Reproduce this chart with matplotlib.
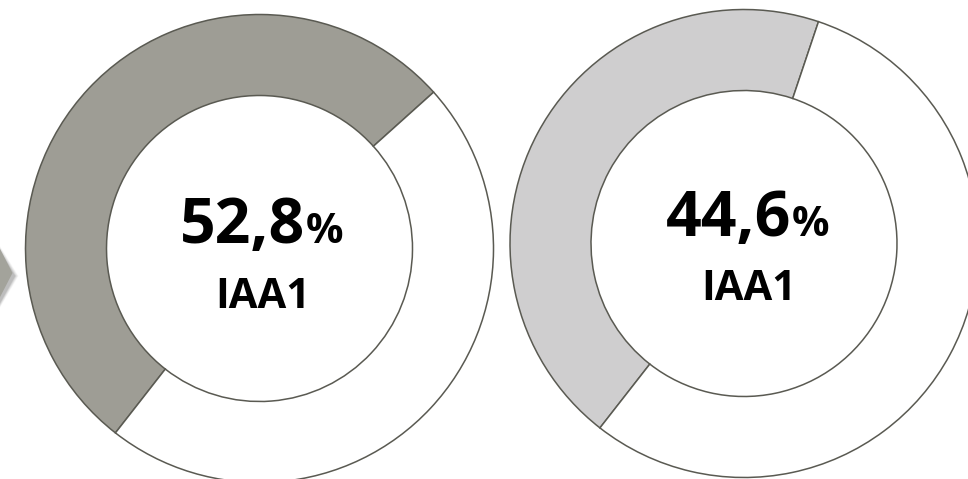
import matplotlib
matplotlib.use("Agg")
import matplotlib.pyplot as plt
from matplotlib.patches import Polygon

# Canvas size in pixels (dpi 100)
W, H = 968, 479

# Chart data
values = [52.8, 44.6]
value_labels = ["52,8", "44,6"]
series_names = ["IAA1", "IAA1"]
fill_colors = ["#9e9d95", "#cfcecf"]
rest_color = "white"
edge_color = "#5a5a52"
FONT = ["Open Sans", "DejaVu Sans"]

fig = plt.figure(figsize=(W / 100, H / 100), dpi=100)
ax = fig.add_axes([0, 0, 1, 1])

# Soft grey pointer peeking in from the left edge (with blurred shadow)
def img(pts):
    return [(x, H - y) for x, y in pts]

arrow = [(-2, 245), (12.5, 273), (-2, 301)]
for i, a in enumerate([0.05, 0.07, 0.09, 0.12, 0.15]):
    grow = 5 - i
    shadow = [(-2, 245 + 3 - grow), (12.5 + 2 + grow * 0.8, 276), (-2, 301 + 5 + grow)]
    ax.add_patch(Polygon(img(shadow), closed=True, facecolor="#606060",
                         edgecolor="none", alpha=a, zorder=0))
ax.add_patch(Polygon(img(arrow), closed=True, facecolor="#a3a39b",
                     edgecolor="none", zorder=1))

# Donut rings
centers = [(259.5, 248.5), (744.0, 243.5)]
R_OUT, R_IN = 234.0, 153.0
for (cx, cy), v, col in zip(centers, values, fill_colors):
    ax.pie([v, 100 - v], colors=[col, rest_color], startangle=232,
           counterclock=False, center=(cx, H - cy), radius=R_OUT,
           wedgeprops=dict(width=R_OUT - R_IN, edgecolor=edge_color,
                           linewidth=1.1, zorder=2))

ax.set_xlim(0, W)
ax.set_ylim(0, H)
ax.set_aspect("equal")
ax.axis("off")

# Centre labels: big value, smaller percent sign, series name below
fig.canvas.draw()
renderer = fig.canvas.get_renderer()
num_baselines = [243, 236]
name_baselines = [308, 300]
text_centers = [261.5, 747.5]
for lab, name, xb, nb, nameb in zip(value_labels, series_names, text_centers,
                                     num_baselines, name_baselines):
    t1 = ax.text(0, H - nb, lab, fontsize=45, fontweight="bold", family=FONT,
                 ha="left", va="baseline", color="black", zorder=5)
    t2 = ax.text(0, H - nb, "%", fontsize=30, fontweight="bold", family=FONT,
                 ha="left", va="baseline", color="black", zorder=5)
    w1 = t1.get_window_extent(renderer).width
    w2 = t2.get_window_extent(renderer).width
    x0 = xb - (w1 + w2) / 2
    t1.set_x(x0)
    t2.set_x(x0 + w1)
    ax.text(xb + 1, H - nameb, name, fontsize=30, fontweight="bold", family=FONT,
            ha="center", va="baseline", color="black", zorder=5)

fig.savefig("out.png", dpi=100, facecolor="white")
